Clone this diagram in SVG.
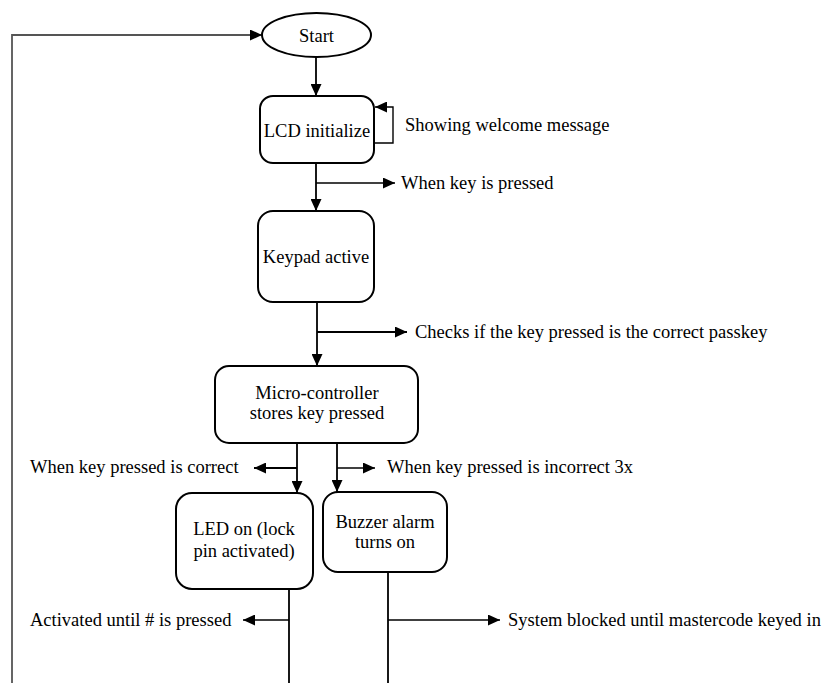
<svg xmlns="http://www.w3.org/2000/svg" width="825" height="683" viewBox="0 0 825 683">
<style>
text{font-family:"Liberation Serif","Times New Roman",serif;font-size:18.5px;fill:#000}
.c{text-anchor:middle}
.box{fill:#fff;stroke:#000;stroke-width:2}
.ln{fill:none;stroke:#000;stroke-width:1.8}
.thin{fill:none;stroke:#000;stroke-width:1.4}
.loop{fill:none;stroke:#555;stroke-width:1.8}
</style>
<defs>
<marker id="ah" viewBox="0 0 12 11" refX="12" refY="5.5" markerWidth="12" markerHeight="11" markerUnits="userSpaceOnUse" orient="auto">
<path d="M0,0 L12,5.5 L0,11 Z" fill="#000"/>
</marker>
</defs>
<rect width="825" height="683" fill="#fff"/>
<g id="connectors">
<path class="loop" d="M12,683 L12,35 L262,35" marker-end="url(#ah)"/>
<line class="ln" x1="316" y1="57" x2="316" y2="96" marker-end="url(#ah)"/>
<path class="thin" d="M374,143 L393,143 L393,107 L375,107" marker-end="url(#ah)"/>
<line class="ln" x1="316" y1="163" x2="316" y2="211" marker-end="url(#ah)"/>
<line class="thin" x1="316" y1="183" x2="395" y2="183" marker-end="url(#ah)"/>
<line class="ln" x1="317" y1="302" x2="317" y2="366" marker-end="url(#ah)"/>
<line class="ln" x1="317" y1="332" x2="407" y2="332" marker-end="url(#ah)"/>
<line class="ln" x1="297" y1="443" x2="297" y2="493" marker-end="url(#ah)"/>
<line class="ln" x1="297" y1="468" x2="254" y2="468" marker-end="url(#ah)"/>
<line class="ln" x1="337" y1="443" x2="337" y2="492" marker-end="url(#ah)"/>
<line class="thin" x1="337" y1="468" x2="375" y2="468" marker-end="url(#ah)"/>
<line class="ln" x1="289" y1="589" x2="289" y2="683"/>
<line class="thin" x1="289" y1="620" x2="243" y2="620" marker-end="url(#ah)"/>
<line class="ln" x1="388" y1="572" x2="388" y2="683"/>
<line class="thin" x1="388" y1="620" x2="500" y2="620" marker-end="url(#ah)"/>
</g>
<g id="start">
<ellipse class="box" cx="316.5" cy="35" rx="54.5" ry="22"/>
<text class="c" x="316.5" y="42">Start</text>
</g>
<g id="lcd">
<rect class="box" x="260" y="96" width="114" height="67" rx="13"/>
<text class="c" x="317" y="137">LCD initialize</text>
</g>
<g id="keypad">
<rect class="box" x="258" y="211" width="116" height="91" rx="15"/>
<text class="c" x="316" y="263">Keypad active</text>
</g>
<g id="micro">
<rect class="box" x="215" y="366" width="203" height="77" rx="14"/>
<text class="c" x="317" y="399">Micro-controller</text>
<text class="c" x="317" y="419">stores key pressed</text>
</g>
<g id="led">
<rect class="box" x="176" y="493" width="137" height="96" rx="16"/>
<text class="c" x="244" y="535">LED on (lock</text>
<text class="c" x="244" y="557">pin activated)</text>
</g>
<g id="buzzer">
<rect class="box" x="323" y="492" width="124" height="80" rx="15"/>
<text class="c" x="385" y="528">Buzzer alarm</text>
<text class="c" x="385" y="548">turns on</text>
</g>
<g id="labels">
<text x="405" y="131">Showing welcome message</text>
<text x="401" y="189">When key is pressed</text>
<text x="415" y="338">Checks if the key pressed is the correct passkey</text>
<text x="30" y="473">When key pressed is correct</text>
<text x="387" y="473">When key pressed is incorrect 3x</text>
<text x="30" y="626">Activated until # is pressed</text>
<text x="508" y="626">System blocked until mastercode keyed in</text>
</g>
</svg>
